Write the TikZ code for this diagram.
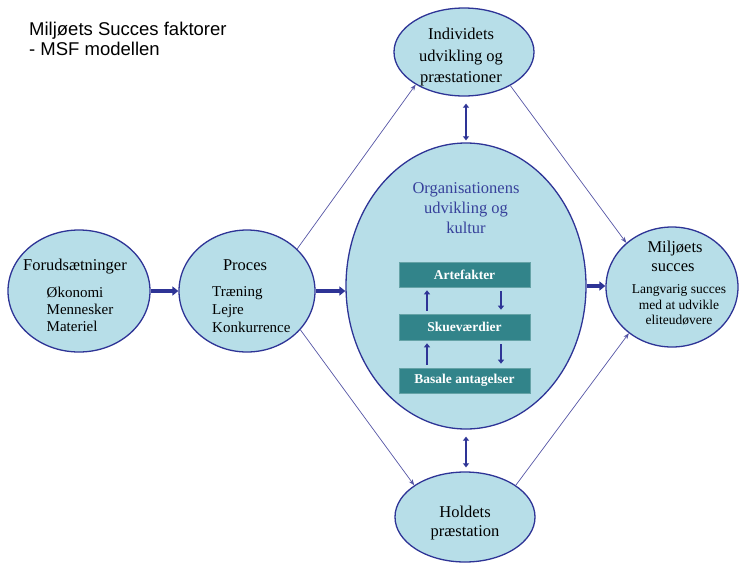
\documentclass[tikz,border=0pt]{standalone}
\usepackage{fontspec}
\setmainfont{Liberation Serif}
\setsansfont{Liberation Sans}
\usetikzlibrary{shapes.geometric,arrows.meta}
\definecolor{ellfill}{RGB}{183,222,232}
\definecolor{navy}{RGB}{46,52,150}
\definecolor{thinline}{RGB}{85,85,165}
\definecolor{boxteal}{RGB}{50,132,138}
\definecolor{titleblue}{RGB}{55,65,155}
\begin{document}
\begin{tikzpicture}[x=1pt,y=-1pt,
  ell/.style={ellipse, draw=navy, line width=1.3pt, fill=ellfill, inner sep=0},
  lbl/.style={inner sep=0, anchor=base, font=\fontsize{16.5}{18}\selectfont},
  itm/.style={inner sep=0, anchor=base west, font=\fontsize{15}{17}\selectfont},
  sml/.style={inner sep=0, anchor=base, font=\fontsize{13.5}{15}\selectfont},
  layer/.style={rectangle, fill=boxteal, draw=boxteal!75!white, line width=0.6pt,
    minimum width=131pt, minimum height=25pt, inner sep=0, text=white,
    font=\bfseries\fontsize{13.5}{15}\selectfont},
  bigarrow/.style={draw=navy, line width=3.6pt, -{Triangle[length=6pt,width=9pt]}},
  dblarrow/.style={draw=navy, line width=2.4pt, {Triangle[length=4pt,width=6pt]}-{Triangle[length=4pt,width=6pt]}},
  smallarrow/.style={draw=navy, line width=2.4pt, -{Triangle[length=4pt,width=6pt]}},
  thinarrow/.style={draw=thinline, line width=0.7pt, -{Stealth[length=6pt,width=4.5pt]}}
]
\useasboundingbox (0,0) rectangle (739,563);

% title
\node[inner sep=0, anchor=base west, font=\sffamily\fontsize{18.5}{20}\selectfont] (T1) at (29,35) {Miljøets Succes faktorer};
\node[inner sep=0, anchor=base west, font=\sffamily\fontsize{18.5}{20}\selectfont] (T2) at (29,55) {- MSF modellen};

% ellipses
\node[ell, minimum width=142pt, minimum height=122pt] (F) at (79,291) {};
\node[ell, minimum width=136pt, minimum height=122pt] (P) at (247,291) {};
\node[ell, minimum width=240pt, minimum height=286pt] (C) at (466,286) {};
\node[ell, minimum width=140pt, minimum height=88pt] (I) at (464,52) {};
\node[ell, minimum width=140pt, minimum height=90pt] (H) at (465,517) {};
\node[ell, minimum width=132pt, minimum height=120pt] (M) at (672,287) {};

% labels
\node[lbl] (Ft) at (75,270) {Forudsætninger};
\node[itm] (F1) at (46.5,297) {Økonomi};
\node[itm] (F2) at (46.5,314) {Mennesker};
\node[itm] (F3) at (46.5,331) {Materiel};

\node[lbl] (Pt) at (245,270) {Proces};
\node[itm] (P1) at (212,296) {Træning};
\node[itm] (P2) at (212,314) {Lejre};
\node[itm] (P3) at (212,332) {Konkurrence};

\node[lbl] (I1) at (461,39) {Individets};
\node[lbl] (I2) at (461,61) {udvikling og};
\node[lbl] (I3) at (461,82) {præstationer};

\node[lbl] (H1) at (465,517) {Holdets};
\node[lbl] (H2) at (465,536) {præstation};

\node[lbl, text=titleblue] (C1) at (466,193) {Organisationens};
\node[lbl, text=titleblue] (C2) at (466,213) {udvikling og};
\node[lbl, text=titleblue] (C3) at (466,233) {kultur};

\node[lbl] (M1) at (675,252) {Miljøets};
\node[lbl] (M2) at (673,271) {succes};
\node[sml] (M3) at (679,293) {Langvarig succes};
\node[sml] (M4) at (679,309) {med at udvikle};
\node[sml] (M5) at (679,324) {eliteudøvere};

% culture layers
\node[layer] (A) at (464.5,274.5) {Artefakter};
\node[layer, minimum height=26pt] (S) at (464.5,327) {Skueværdier};
\node[layer] (B) at (464.5,380.5) {Basale antagelser};

\draw[smallarrow, shorten <=3pt, shorten >=3pt] ([xshift=-37.5pt]S.north) -- ([xshift=-37.5pt]A.south);
\draw[smallarrow, shorten <=4pt, shorten >=4pt] ([xshift=36.5pt]A.south) -- ([xshift=36.5pt]S.north);
\draw[smallarrow, shorten <=3pt, shorten >=3pt] ([xshift=-37.5pt]B.north) -- ([xshift=-37.5pt]S.south);
\draw[smallarrow, shorten <=4pt, shorten >=4pt] ([xshift=36.5pt]S.south) -- ([xshift=36.5pt]B.north);

% thick arrows
\draw[bigarrow] (F.east) -- (P.west);
\draw[bigarrow] (P.east) -- (P.east -| C.west);
\draw[bigarrow] (C.east) -- (C.east -| M.west);

% vertical double arrows
\draw[dblarrow, shorten <=7pt, shorten >=2pt] (C.north |- I.south) -- (C.north);
\draw[dblarrow, shorten <=7pt, shorten >=4pt] (C.south) -- (C.south |- H.north);

% thin arrows
\draw[thinarrow] (P.40) -- (I.214);
\draw[thinarrow] (P.-36) -- (H.148);
\draw[thinarrow] (I.-36) -- (M.136);
\draw[thinarrow] (H.32) -- (M.227);
\end{tikzpicture}
\end{document}
